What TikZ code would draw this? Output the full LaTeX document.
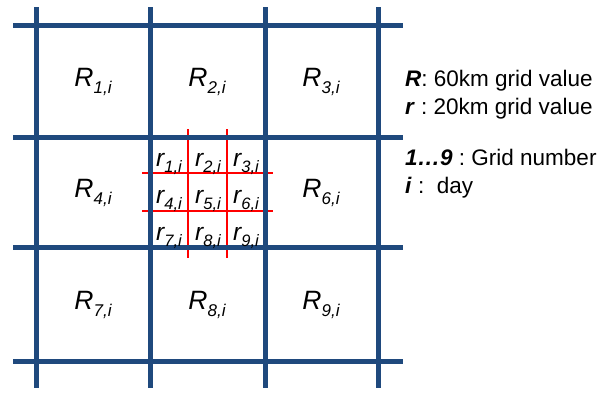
\documentclass[tikz,border=0pt]{standalone}
\usepackage{fontspec}
\setmainfont{Liberation Sans}
\frenchspacing
\definecolor{gridblue}{RGB}{31,73,125}
\newcommand{\Rlab}[1]{{\fontsize{26.5}{26.5}\selectfont\itshape R\raisebox{-7pt}{\fontsize{17}{17}\selectfont #1,i}}}
\newcommand{\rlab}[1]{{\fontsize{24.5}{24.5}\selectfont\itshape r\raisebox{-6pt}{\fontsize{16.5}{16.5}\selectfont #1,i}}}
\tikzset{
  bluegrid/.style={draw=gridblue, line width=5pt},
  redgrid/.style={draw=red, line width=1.5pt},
  biglab/.style={anchor=base, inner sep=0pt},
  smalllab/.style={anchor=base, inner sep=0pt},
  legend/.style={anchor=base west, inner sep=0pt, font=\fontsize{22.5}{22.5}\selectfont\frenchspacing},
}
\begin{document}
\begin{tikzpicture}[x=1pt, y=-1pt]
\useasboundingbox (0,0) rectangle (614,392);
% red fine grid
\foreach \x in {188,227} \draw[redgrid] (\x,129) -- (\x,258);
\foreach \y in {173,211} \draw[redgrid] (142,\y) -- (273,\y);
% blue coarse grid
\foreach \x in {36,150,265,378} \draw[bluegrid] (\x,7) -- (\x,388);
\foreach \y in {25,137,247,361} \draw[bluegrid] (13,\y) -- (403,\y);
% big labels
\node[biglab] (R1) at (93,86) {\Rlab{1}};
\node[biglab] (R2) at (207,86) {\Rlab{2}};
\node[biglab] (R3) at (321,86) {\Rlab{3}};
\node[biglab] (R4) at (93,197) {\Rlab{4}};
\node[biglab] (R6) at (321,197) {\Rlab{6}};
\node[biglab] (R7) at (93,309) {\Rlab{7}};
\node[biglab] (R8) at (207,309) {\Rlab{8}};
\node[biglab] (R9) at (321,309) {\Rlab{9}};
% small labels
\node[smalllab] (r1) at (169,166) {\rlab{1}};
\node[smalllab] (r2) at (208,166) {\rlab{2}};
\node[smalllab] (r3) at (246,166) {\rlab{3}};
\node[smalllab] (r4) at (169,203) {\rlab{4}};
\node[smalllab] (r5) at (208,203) {\rlab{5}};
\node[smalllab] (r6) at (246,203) {\rlab{6}};
\node[smalllab] (r7) at (169,240) {\rlab{7}};
\node[smalllab] (r8) at (208,240) {\rlab{8}};
\node[smalllab] (r9) at (246,240) {\rlab{9}};
% legend
\node[legend] (L1) at (405,86) {\textbf{\textit{R}}: 60km grid value};
\node[legend] (L2) at (405,114) {\textbf{\textit{r}} : 20km grid value};
\node[legend] (L3) at (405,165) {\textbf{\textit{1…9}} : Grid number};
\node[legend] (L4) at (405,193) {\textbf{\textit{i}} :~~day};
\end{tikzpicture}
\end{document}
